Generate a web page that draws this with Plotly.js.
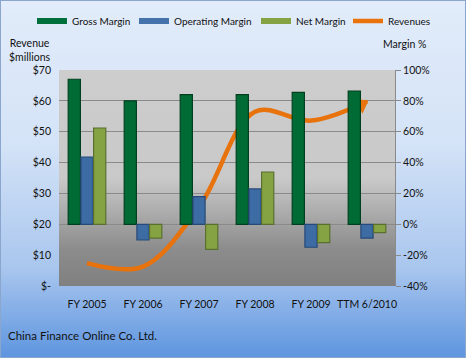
<!DOCTYPE html>
<html><head><meta charset="utf-8">
<script src="https://cdn.plot.ly/plotly-3.0.1.min.js"></script>
<style>
html,body{margin:0;padding:0;}
#wrap{position:relative;width:464px;height:356px;border:1px solid #8aa6cc;
 background:linear-gradient(#e2ecfa 0%,#d4e3f7 40%,#a9c6ee 75%,#5e95df 100%);overflow:hidden;}
#pbg{position:absolute;left:58px;top:69px;width:336px;height:216px;
 background:linear-gradient(#cdcdcd 0%,#c9c9c9 50%,#8c8c8c 83%,#808080 100%);}
#chart{position:absolute;left:-1px;top:-1px;width:466px;height:358px;}
</style></head><body>
<div id="wrap"><div id="pbg"></div><div id="chart"></div></div>
<script>
const categories = ['FY 2005','FY 2006','FY 2007','FY 2008','FY 2009','TTM 6/2010'];
const grossMargin = [94, 80, 84, 84, 85.5, 86.4];
const operatingMargin = [43.6, -10.2, 17.9, 22.9, -14.9, -9];
const netMargin = [62.4, -9, -16.2, 33.9, -11.9, -5.4];
const revenues = [7.4, 6.3, 25.6, 56.5, 53.6, 59.8];
const leftTickVals = [0,10,20,30,40,50,60,70];
const leftTickText = ['$-','$10','$20','$30','$40','$50','$60','$70'];
const rightTickVals = [-40,-20,0,20,40,60,80,100];
const rightTickText = ['-40%','-20%','0%','20%','40%','60%','80%','100%'];

const fam = 'Lato, "Open Sans", sans-serif';
const font = {family:fam, size:10.5, color:'#111'};
function barTrace(name, y, fill, edge){
  return {type:'bar', name:name, x:categories, y:y, yaxis:'y2',
    marker:{color:fill, line:{color:edge, width:1.2}}, showlegend:false, hoverinfo:'skip'};
}
function legTrace(name, fill, leg){
  return {type:'scatter', mode:'lines', name:name, x:[null], y:[null],
    line:{color:fill, width:6}, showlegend:true, legend:leg};
}
const lastIdx = revenues.length - 1;
const traces = [
  barTrace('Gross Margin', grossMargin, '#006b35', '#00401f'),
  barTrace('Operating Margin', operatingMargin, '#3d6ba3', '#274a78'),
  barTrace('Net Margin', netMargin, '#86a343', '#5a7030'),
  legTrace('Gross Margin', '#00703a', 'legend'),
  legTrace('Operating Margin', '#4472aa', 'legend2'),
  legTrace('Net Margin', '#86a343', 'legend3'),
  {type:'scatter', mode:'lines', name:'Revenues', x:categories, y:revenues, legend:'legend4',
   line:{color:'#e8720c', width:4.5, shape:'spline', smoothing:1}, showlegend:true},
  {type:'scatter', mode:'markers', name:'Revenues', x:[categories[lastIdx]], y:[revenues[lastIdx]],
   marker:{symbol:'triangle-up', size:15, angle:62, standoff:6, color:'#e8720c', line:{width:0}}, showlegend:false}
];
function leg(x){
  return {orientation:'h', x:x, xanchor:'left', y:1.227, yanchor:'middle',
    font:{family:fam, size:10, color:'#111'}, itemwidth:30, bgcolor:'rgba(0,0,0,0)'};
}
const layout = {
  width:466, height:358,
  margin:{l:59, r:71, t:70, b:72, autoexpand:false},
  paper_bgcolor:'rgba(0,0,0,0)', plot_bgcolor:'rgba(0,0,0,0)',
  font:font,
  barmode:'group', bargap:0.32, bargroupgap:0.04,
  showlegend:true,
  legend:leg(-0.0804), legend2:leg(0.2232), legend3:leg(0.5863), legend4:leg(0.8601),
  xaxis:{type:'category', showgrid:false, zeroline:false, showline:false, ticks:'',
    tickfont:{size:10.5}, ticklabelstandoff:10},
  yaxis:{range:[0,70], tickvals:leftTickVals, ticktext:leftTickText, showgrid:true,
    gridcolor:'#8a8a8a', gridwidth:1, zeroline:false, showline:false, ticks:'',
    ticklabelstandoff:7, tickfont:{size:10.5}},
  yaxis2:{range:[-40,100], tickvals:rightTickVals, ticktext:rightTickText, overlaying:'y',
    side:'right', showgrid:false, zeroline:false, showline:true, linecolor:'#8a8a8a',
    ticks:'outside', ticklen:5, tickcolor:'#8a8a8a', tickfont:{size:10.5}},
  annotations:[
    {text:'Revenue<br>$millions', xref:'paper', yref:'paper', x:-0.086, y:1.093, xanchor:'center', yanchor:'middle',
     showarrow:false, align:'center', font:{size:10.5, color:'#111'}},
    {text:'Margin %', xref:'paper', yref:'paper', x:1.027, y:1.12, xanchor:'center', yanchor:'middle',
     showarrow:false, font:{size:10.5, color:'#111'}},
    {text:'China Finance Online Co. Ltd.', xref:'paper', yref:'paper', x:-0.155, y:-0.23, xanchor:'left', yanchor:'middle',
     showarrow:false, borderpad:0, font:{size:11.5, color:'#111'}}
  ]
};
Plotly.newPlot('chart', traces, layout, {displayModeBar:false, staticPlot:true});
</script></body></html>
